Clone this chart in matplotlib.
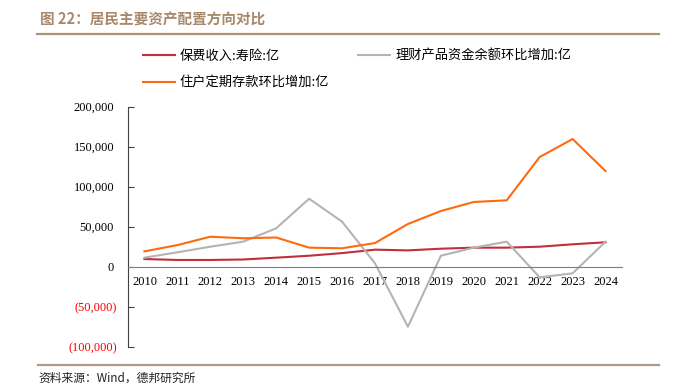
import matplotlib.pyplot as plt
from matplotlib.lines import Line2D
from matplotlib.ticker import FuncFormatter
from matplotlib.transforms import ScaledTranslation

plt.rcParams['font.family'] = ['Noto Sans CJK SC', 'DejaVu Sans']

years = [str(y) for y in range(2010, 2025)]
# 保费收入:寿险:亿
premium = [9600, 8400, 8400, 9000, 11300, 13700, 17000, 21300, 20400, 22500,
           23800, 23800, 25000, 28000, 30500]
# 理财产品资金余额环比增加:亿
wealth = [11300, 18000, 25000, 31300, 48000, 85000, 56300, 4200, -75000, 13700,
          23800, 31300, -13300, -8300, 31300]
# 住户定期存款环比增加:亿
deposit = [19200, 27000, 37500, 35500, 36500, 23800, 23000, 29600, 53400, 69600,
           80900, 83000, 137100, 159600, 119600]

yticks = [-100000, -50000, 0, 50000, 100000, 150000, 200000]

c_red = '#c0303a'
c_gray = '#b4b4b4'
c_orange = '#ff6a0e'
c_brown = '#a8896c'

W, H = 676, 383
fig = plt.figure(figsize=(W / 100, H / 100), dpi=100)
ax = fig.add_axes([128 / W, (H - 346.7) / H, (622 - 128) / W, (346.7 - 106.7) / H])

x = list(range(len(years)))
ax.plot(x, premium, color=c_red, lw=1.5)
ax.plot(x, wealth, color=c_gray, lw=1.5)
ax.plot(x, deposit, color=c_orange, lw=1.5)

ax.set_xlim(-0.5, len(years) - 0.5)
ax.set_ylim(-100000, 200000)
ax.set_yticks(yticks)


def fmt(v, pos):
    if v < 0:
        return '({:,.0f})'.format(-v)
    return '{:,.0f}'.format(v)


ax.yaxis.set_major_formatter(FuncFormatter(fmt))
ax.set_xticks(x)
ax.set_xticklabels(years)

for s in ['top', 'right']:
    ax.spines[s].set_visible(False)
ax.spines['bottom'].set_position(('data', 0))
ax.spines['bottom'].set_color('#7f7f7f')
ax.spines['left'].set_color('#404040')

ax.tick_params(axis='x', length=0, pad=7)
ax.tick_params(axis='y', direction='in', length=4, color='#404040', pad=10)
for lab in ax.get_xticklabels() + ax.get_yticklabels():
    lab.set_family('Liberation Serif')
    lab.set_fontsize(9)
# negative labels hang out a little to the right (accounting style)
shift = ScaledTranslation(3 / 100, 0, fig.dpi_scale_trans)
for lab, v in zip(ax.get_yticklabels(), yticks):
    if v < 0:
        lab.set_color('red')
        lab.set_transform(lab.get_transform() + shift)

# legend
handles = [Line2D([], [], color=c_red, lw=1.5),
           Line2D([], [], color=c_orange, lw=1.5),
           Line2D([], [], color=c_gray, lw=1.5)]
labels = ['保费收入:寿险:亿', '住户定期存款环比增加:亿', '理财产品资金余额环比增加:亿']
fig.legend(handles, labels, loc='upper left', bbox_to_anchor=(143 / W, 1 - 50 / H),
           ncol=2, frameon=False, fontsize=9.5, handlelength=2.4, handletextpad=0.4,
           columnspacing=2.2, labelspacing=1.0, borderpad=0, borderaxespad=0)

# title and rules
fig.text(40 / W, 1 - 19.5 / H, '图 22：居民主要资产配置方向对比', fontsize=10.5,
         fontweight='bold', color=c_brown, va='center', ha='left')
fig.add_artist(Line2D([37 / W, 659 / W], [1 - 33.5 / H, 1 - 33.5 / H],
                      color='#b09274', lw=1.6))
fig.add_artist(Line2D([38 / W, 659 / W], [1 - 365 / H, 1 - 365 / H],
                      color='#b09a86', lw=1.6))
fig.text(38 / W, 1 - 378 / H, '资料来源：Wind，德邦研究所', fontsize=8.5,
         color='#222222', va='center', ha='left')

fig.savefig('out.png', dpi=100)
